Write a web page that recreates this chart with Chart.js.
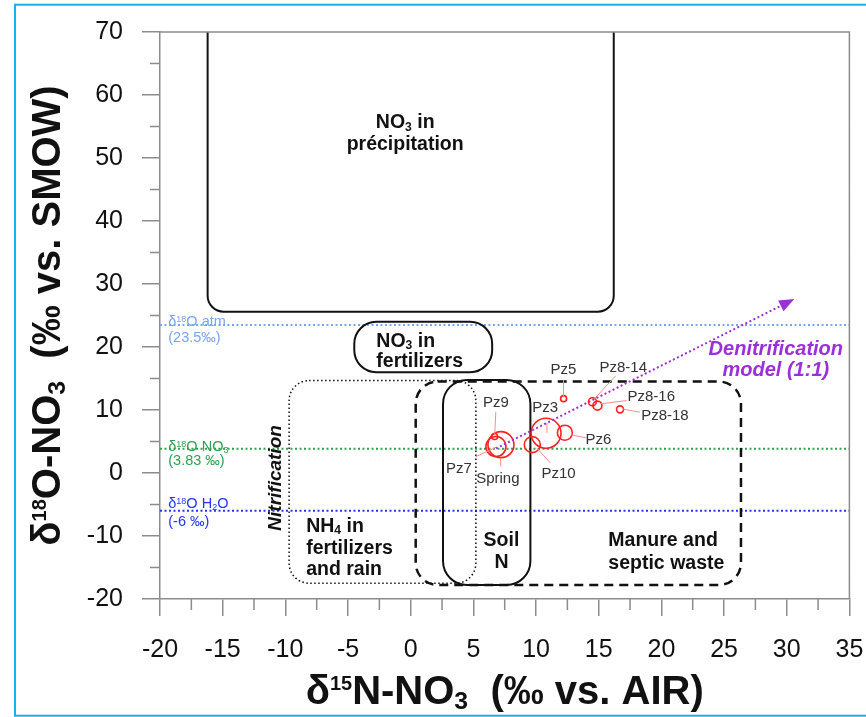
<!DOCTYPE html>
<html>
<head>
<meta charset="utf-8">
<script src="https://cdn.jsdelivr.net/npm/chart.js@4.4.0/dist/chart.umd.min.js"></script>
<style>
  html, body { margin: 0; padding: 0; background: #fff; }
  #wrap { width: 866px; height: 717px; }
</style>
</head>
<body>
<div id="wrap"><canvas id="isoChart" width="866" height="717"></canvas></div>
<script>
(function () {
  "use strict";

  /*----------------------------------------*/
  /*  data
  /*----------------------------------------*/
  var sampleNames = ["Pz9", "Pz7", "Spring", "Pz3", "Pz10", "Pz6", "Pz5", "Pz8-14", "Pz8-16", "Pz8-18"];
  var d15N = [6.7, 6.8, 7.2, 10.8, 9.7, 12.3, 12.2, 14.5, 14.9, 16.7];
  var d18O = [5.8, 4.2, 4.5, 6.3, 4.5, 6.4, 11.8, 11.3, 10.7, 10.1];
  var bubbleR = [3, 10, 13, 15, 8, 7.5, 3, 4, 4.5, 3.5];

  var xMin = -20, xMax = 35, xStep = 5;
  var yMin = -20, yMax = 70, yStep = 10;

  // reference d18O values (atm O2, nitrate from nitrification, water)
  var refValues = [23.5, 3.83, -6];
  var refColors = ["#78a5f2", "#2ca24f", "#2233ff"];

  // denitrification model 1:1, start and end in d15N / d18O
  var denitStart = [6.8, 3.9];
  var denitEnd = [30.6, 27.6];

  /*----------------------------------------*/
  /*  annotation layout (data units)
  /*----------------------------------------*/
  var FAM = "'Liberation Sans', Arial, sans-serif";

  var boxes = [
    { x0: -16.2, x1: 16.2, y0: 25.6, y1: 80, r: 16, dash: [], w: 2 },        // precipitation
    { x0: -4.5, x1: 6.5, y0: 16.0, y1: 24.0, r: 22, dash: [], w: 2 },         // fertilizers
    { x0: -9.7, x1: 5.2, y0: -17.5, y1: 14.67, r: 20, dash: [1.5, 2.5], w: 1.5 }, // NH4
    { x0: 0.4, x1: 26.35, y0: -17.77, y1: 14.51, r: 22, dash: [9, 6], w: 2.5 },   // manure
    { x0: 2.58, x1: 9.55, y0: -17.77, y1: 14.78, r: 24, dash: [], w: 2 }      // soil N
  ];

  var boxTexts = [
    { x: -0.44, y: 55.8, a: "center", segs: [["NO", ""], ["3", "sub"], [" in", ""]] },
    { x: -0.44, y: 52.3, a: "center", segs: [["précipitation", ""]] },
    { x: -2.74, y: 21.14, a: "left", segs: [["NO", ""], ["3", "sub"], [" in", ""]] },
    { x: -2.74, y: 17.88, a: "left", segs: [["fertilizers", ""]] },
    { x: -8.34, y: -8.19, a: "left", segs: [["NH", ""], ["4", "sub"], [" in", ""]] },
    { x: -8.34, y: -11.77, a: "left", segs: [["fertilizers", ""]] },
    { x: -8.34, y: -15.12, a: "left", segs: [["and rain", ""]] },
    { x: 7.24, y: -10.5, a: "center", segs: [["Soil", ""]] },
    { x: 7.24, y: -13.93, a: "center", segs: [["N", ""]] },
    { x: 15.77, y: -10.51, a: "left", segs: [["Manure and", ""]] },
    { x: 15.77, y: -14.07, a: "left", segs: [["septic waste", ""]] }
  ];

  var refTexts = [
    { x: -19.34, y: 24.23, c: 0, segs: [["δ", ""], ["18", "sup"], ["O atm", ""]] },
    { x: -19.34, y: 21.58, c: 0, segs: [["(23.5‰)", ""]] },
    { x: -19.34, y: 4.33, c: 1, segs: [["δ", ""], ["18", "sup"], ["O NO", ""], ["3", "sub"]] },
    { x: -19.34, y: 2.03, c: 1, segs: [["(3.83 ‰)", ""]] },
    { x: -19.34, y: -4.72, c: 2, segs: [["δ", ""], ["18", "sup"], ["O H", ""], ["2", "sub"], ["O", ""]] },
    { x: -19.34, y: -7.53, c: 2, segs: [["(-6 ‰)", ""]] }
  ];

  // label centre and leader line (from, to) for each sample, data units
  var pointLabels = [
    { lx: 6.79, ly: 11.29, f: [6.71, 6.21], t: [6.79, 9.71] },
    { lx: 3.85, ly: 0.81, f: [6.87, 4.14], t: [5.17, 2.56] },
    { lx: 6.95, ly: -0.78, f: [7.16, 2.24], t: [7.19, 1.02] },
    { lx: 10.73, ly: 10.54, f: [10.87, 7.96], t: [10.87, 6.37] },
    { lx: 11.8, ly: 0.02, f: [10.05, 3.99], t: [11.14, 1.6] },
    { lx: 14.98, ly: 5.4, f: [12.81, 6.05], t: [14.02, 5.57] },
    { lx: 12.19, ly: 16.53, f: [12.19, 14.78], t: [12.19, 12.13] },
    { lx: 16.96, ly: 16.9, f: [14.58, 11.61], t: [16.35, 15.42] },
    { lx: 19.19, ly: 12.24, f: [15.11, 10.97], t: [17.23, 11.5] },
    { lx: 20.28, ly: 9.23, f: [16.96, 10.13], t: [18.29, 9.66] }
  ];

  /*----------------------------------------*/
  /*  helpers
  /*----------------------------------------*/
  function richLine(ctx, segs, x, y, size, style, align, supScale) {
    supScale = supScale || 0.6;
    var parts = segs.map(function (s) {
      var k = s[1] === "sup" ? supScale : (s[1] === "sub" ? 0.62 : 1);
      var f = style + " " + (size * k).toFixed(1) + "px " + FAM;
      ctx.font = f;
      var dy = 0;
      if (s[1] === "sub") dy = size * 0.12;
      if (s[1] === "sup") dy = -size * 0.716 * (1 - supScale);
      return { t: s[0], f: f, w: ctx.measureText(s[0]).width, dy: dy };
    });
    var total = 0;
    parts.forEach(function (p) { total += p.w; });
    var cx = x;
    if (align === "center") cx = x - total / 2;
    if (align === "right") cx = x - total;
    var base = y + size * 0.358;
    ctx.textAlign = "left";
    ctx.textBaseline = "alphabetic";
    parts.forEach(function (p) {
      ctx.font = p.f;
      ctx.fillText(p.t, cx, base + p.dy);
      cx += p.w;
    });
  }

  function roundPath(ctx, x0, y0, x1, y1, r) {
    ctx.beginPath();
    ctx.moveTo(x0 + r, y0);
    ctx.lineTo(x1 - r, y0);
    ctx.arcTo(x1, y0, x1, y0 + r, r);
    ctx.lineTo(x1, y1 - r);
    ctx.arcTo(x1, y1, x1 - r, y1, r);
    ctx.lineTo(x0 + r, y1);
    ctx.arcTo(x0, y1, x0, y1 - r, r);
    ctx.lineTo(x0, y0 + r);
    ctx.arcTo(x0, y0, x0 + r, y0, r);
    ctx.closePath();
  }

  var isotopePlugin = {
    id: "isotopeDecor",
    beforeDraw: function (chart) {
      var ctx = chart.ctx;
      ctx.save();
      ctx.fillStyle = "#fff";
      ctx.fillRect(0, 0, chart.width, chart.height);
      ctx.restore();
    },
    beforeDatasetsDraw: function (chart) {
      var ctx = chart.ctx, xs = chart.scales.x, ys = chart.scales.y, a = chart.chartArea;
      ctx.save();
      ctx.beginPath();
      ctx.rect(a.left, a.top, a.right - a.left, a.bottom - a.top);
      ctx.clip();

      // reference lines
      refValues.forEach(function (v, i) {
        var yy = ys.getPixelForValue(v);
        ctx.strokeStyle = refColors[i];
        ctx.lineWidth = 2;
        ctx.setLineDash([2, 2.5]);
        ctx.beginPath();
        ctx.moveTo(a.left, yy);
        ctx.lineTo(a.right, yy);
        ctx.stroke();
      });

      // source boxes
      boxes.forEach(function (b) {
        var x0 = xs.getPixelForValue(b.x0), x1 = xs.getPixelForValue(b.x1);
        var y0 = ys.getPixelForValue(b.y1), y1 = ys.getPixelForValue(b.y0);
        ctx.strokeStyle = "#111";
        ctx.lineWidth = b.w;
        ctx.setLineDash(b.dash);
        roundPath(ctx, x0, y0, x1, y1, b.r);
        ctx.stroke();
      });
      ctx.setLineDash([]);
      ctx.restore();

      ctx.save();
      ctx.fillStyle = "#111";
      boxTexts.forEach(function (t) {
        richLine(ctx, t.segs, xs.getPixelForValue(t.x), ys.getPixelForValue(t.y), 19.5, "bold", t.a);
      });
      refTexts.forEach(function (t) {
        ctx.fillStyle = refColors[t.c];
        richLine(ctx, t.segs, xs.getPixelForValue(t.x), ys.getPixelForValue(t.y), 14.5, "normal", "left", 0.62);
      });

      // nitrification (vertical)
      ctx.fillStyle = "#111";
      ctx.save();
      ctx.translate(xs.getPixelForValue(-10.86), ys.getPixelForValue(-0.78));
      ctx.rotate(-Math.PI / 2);
      richLine(ctx, [["Nitrification", ""]], 0, 0, 19, "italic bold", "center");
      ctx.restore();
      ctx.restore();
    },
    afterDatasetsDraw: function (chart) {
      var ctx = chart.ctx, xs = chart.scales.x, ys = chart.scales.y;
      ctx.save();

      // leader lines + sample labels
      ctx.strokeStyle = "#ff8c8c";
      ctx.lineWidth = 1;
      pointLabels.forEach(function (p, i) {
        ctx.beginPath();
        ctx.moveTo(xs.getPixelForValue(p.f[0]), ys.getPixelForValue(p.f[1]));
        ctx.lineTo(xs.getPixelForValue(p.t[0]), ys.getPixelForValue(p.t[1]));
        ctx.stroke();
        ctx.fillStyle = "#333";
        richLine(ctx, [[sampleNames[i], ""]], xs.getPixelForValue(p.lx), ys.getPixelForValue(p.ly), 15, "normal", "center");
      });

      // denitrification arrow
      var sx = xs.getPixelForValue(denitStart[0]), sy = ys.getPixelForValue(denitStart[1]);
      var ex = xs.getPixelForValue(denitEnd[0]), ey = ys.getPixelForValue(denitEnd[1]);
      var ang = Math.atan2(ey - sy, ex - sx);
      var headL = 15, headW = 6;
      ctx.strokeStyle = "#9b30d9";
      ctx.fillStyle = "#9b30d9";
      ctx.lineWidth = 2;
      ctx.setLineDash([2, 2.5]);
      ctx.beginPath();
      ctx.moveTo(sx, sy);
      ctx.lineTo(ex - headL * Math.cos(ang), ey - headL * Math.sin(ang));
      ctx.stroke();
      ctx.setLineDash([]);
      ctx.beginPath();
      ctx.moveTo(ex, ey);
      ctx.lineTo(ex - headL * Math.cos(ang) + headW * Math.sin(ang), ey - headL * Math.sin(ang) - headW * Math.cos(ang));
      ctx.lineTo(ex - headL * Math.cos(ang) - headW * Math.sin(ang), ey - headL * Math.sin(ang) + headW * Math.cos(ang));
      ctx.closePath();
      ctx.fill();

      richLine(ctx, [["Denitrification", ""]], xs.getPixelForValue(29.13), ys.getPixelForValue(19.82), 20, "italic bold", "center");
      richLine(ctx, [["model (1:1)", ""]], xs.getPixelForValue(29.13), ys.getPixelForValue(16.48), 20, "italic bold", "center");
      ctx.restore();
    },
    afterDraw: function (chart) {
      var ctx = chart.ctx, xs = chart.scales.x, ys = chart.scales.y, a = chart.chartArea;
      ctx.save();
      ctx.strokeStyle = "#8c8c8c";
      ctx.lineWidth = 1.5;
      // minor ticks
      ctx.beginPath();
      for (var v = xMin + xStep / 2; v < xMax; v += xStep) {
        var xx = xs.getPixelForValue(v);
        ctx.moveTo(xx, a.bottom);
        ctx.lineTo(xx, a.bottom + 11);
      }
      for (var w = yMin + yStep / 2; w < yMax; w += yStep) {
        var yy = ys.getPixelForValue(w);
        ctx.moveTo(a.left - 10, yy);
        ctx.lineTo(a.left, yy);
      }
      // top and right frame
      ctx.moveTo(a.left, a.top);
      ctx.lineTo(a.right, a.top);
      ctx.lineTo(a.right, a.bottom);
      ctx.stroke();

      // axis titles
      ctx.fillStyle = "#111";
      richLine(ctx, [["δ", ""], ["15", "sup"], ["N-NO", ""], ["3", "sub"], ["  (‰ vs. AIR)", ""]],
        (a.left + a.right) / 2, 690, 40, "bold", "center", 0.5);
      ctx.save();
      ctx.translate(46, (a.top + a.bottom) / 2);
      ctx.rotate(-Math.PI / 2);
      richLine(ctx, [["δ", ""], ["18", "sup"], ["O-NO", ""], ["3", "sub"], ["  (‰ vs. SMOW)", ""]],
        0, 0, 40, "bold", "center", 0.5);
      ctx.restore();

      // outer figure frame
      ctx.strokeStyle = "#10b4ee";
      ctx.lineWidth = 2;
      ctx.strokeRect(15, 4.7, 900, 711);
      ctx.restore();
    }
  };

  var ctx1 = document.getElementById("isoChart");
  var isoChart = new Chart(ctx1, {
    type: "bubble",
    data: {
      datasets: [{
        label: "Samples",
        data: sampleNames.map(function (n, i) { return { x: d15N[i], y: d18O[i], r: bubbleR[i] }; }),
        borderColor: "#ff2020",
        backgroundColor: "rgba(255,255,255,0)",
        borderWidth: 1.6
      }]
    },
    options: {
      responsive: false,
      animation: false,
      devicePixelRatio: 1,
      layout: { padding: { top: 32, right: 14, left: 0, bottom: 0 } },
      plugins: { legend: { display: false }, tooltip: { enabled: false } },
      scales: {
        x: {
          type: "linear", min: xMin, max: xMax,
          ticks: { stepSize: xStep, autoSkip: false, maxRotation: 0, padding: 19, color: "#111", font: { family: FAM, size: 25 } },
          grid: { drawOnChartArea: false, tickLength: 17, color: "#8c8c8c", lineWidth: 1.5 },
          border: { display: true, color: "#8c8c8c", width: 1.5 },
          afterFit: function (s) { s.height = 118; s.paddingLeft = 0; s.paddingRight = 0; }
        },
        y: {
          type: "linear", min: yMin, max: yMax,
          ticks: { stepSize: yStep, autoSkip: false, padding: 19, color: "#111", font: { family: FAM, size: 25 } },
          grid: { drawOnChartArea: false, tickLength: 18, color: "#8c8c8c", lineWidth: 1.5 },
          border: { display: true, color: "#8c8c8c", width: 1.5 },
          afterFit: function (s) { s.width = 160; s.paddingTop = 0; s.paddingBottom = 0; }
        }
      }
    },
    plugins: [isotopePlugin]
  });
})();
</script>
</body>
</html>
